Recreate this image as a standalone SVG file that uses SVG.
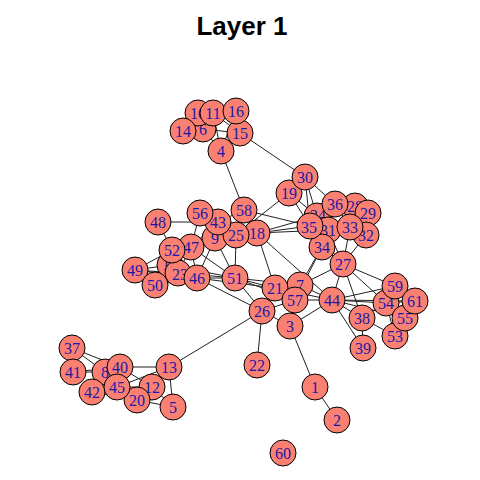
<svg xmlns="http://www.w3.org/2000/svg" width="480" height="480" viewBox="0 0 480 480">
<style>
.e line{stroke:#222;stroke-width:1}
.n circle{fill:#FA8072;stroke:#000;stroke-width:1}
.n text{font-family:"Liberation Serif",serif;font-size:16px;fill:#1a1aa8;text-anchor:middle;dominant-baseline:central}
.t{font-family:"Liberation Sans",Arial,sans-serif;font-size:26px;font-weight:bold;text-anchor:middle}
</style>
<rect width="480" height="480" fill="#fff"/>
<text class="t" x="242" y="35">Layer 1</text>
<g class="e" id="edges">
<line x1="198" y1="113" x2="203" y2="129"/><line x1="198" y1="113" x2="213" y2="113"/><line x1="198" y1="113" x2="183" y2="131"/>
<line x1="213" y1="113" x2="236" y2="111"/><line x1="213" y1="113" x2="203" y2="129"/><line x1="183" y1="131" x2="203" y2="129"/>
<line x1="203" y1="129" x2="240" y2="133"/><line x1="203" y1="129" x2="221" y2="151"/><line x1="213" y1="113" x2="221" y2="151"/>
<line x1="236" y1="111" x2="240" y2="133"/><line x1="236" y1="111" x2="221" y2="151"/><line x1="240" y1="133" x2="221" y2="151"/>
<line x1="213" y1="113" x2="240" y2="133"/><line x1="221" y1="151" x2="244" y2="210"/><line x1="240" y1="133" x2="305" y2="177"/>
<line x1="305" y1="177" x2="289" y2="193"/><line x1="305" y1="177" x2="335" y2="204"/><line x1="305" y1="177" x2="317" y2="216"/>
<line x1="305" y1="177" x2="310" y2="226"/><line x1="289" y1="193" x2="310" y2="226"/><line x1="289" y1="193" x2="317" y2="216"/>
<line x1="289" y1="193" x2="236" y2="235"/><line x1="244" y1="210" x2="257" y2="233"/><line x1="244" y1="210" x2="310" y2="226"/>
<line x1="244" y1="210" x2="218" y2="222"/><line x1="244" y1="210" x2="236" y2="235"/><line x1="257" y1="233" x2="310" y2="226"/>
<line x1="257" y1="233" x2="317" y2="216"/><line x1="257" y1="233" x2="328" y2="230"/><line x1="257" y1="233" x2="236" y2="235"/>
<line x1="257" y1="233" x2="275" y2="288"/><line x1="257" y1="233" x2="332" y2="300"/>
<line x1="335" y1="204" x2="317" y2="216"/><line x1="335" y1="204" x2="355" y2="206"/><line x1="335" y1="204" x2="328" y2="230"/>
<line x1="335" y1="204" x2="350" y2="227"/><line x1="355" y1="206" x2="368" y2="213"/><line x1="355" y1="206" x2="350" y2="227"/>
<line x1="368" y1="213" x2="366" y2="235"/><line x1="350" y1="227" x2="366" y2="235"/><line x1="317" y1="216" x2="310" y2="226"/>
<line x1="317" y1="216" x2="328" y2="230"/><line x1="310" y1="226" x2="328" y2="230"/><line x1="328" y1="230" x2="322" y2="247"/>
<line x1="350" y1="227" x2="328" y2="230"/><line x1="322" y1="247" x2="310" y2="226"/><line x1="350" y1="227" x2="343" y2="264"/>
<line x1="366" y1="235" x2="343" y2="264"/><line x1="328" y1="230" x2="343" y2="264"/><line x1="322" y1="247" x2="343" y2="264"/>
<line x1="310" y1="226" x2="343" y2="264"/><line x1="317" y1="216" x2="350" y2="227"/><line x1="335" y1="204" x2="368" y2="213"/>
<line x1="322" y1="247" x2="300" y2="285"/><line x1="322" y1="247" x2="295" y2="300"/>
<line x1="343" y1="264" x2="332" y2="300"/><line x1="343" y1="264" x2="395" y2="286"/><line x1="343" y1="264" x2="362" y2="318"/>
<line x1="343" y1="264" x2="386" y2="303"/><line x1="343" y1="264" x2="300" y2="285"/>
<line x1="332" y1="300" x2="395" y2="286"/><line x1="332" y1="300" x2="386" y2="303"/><line x1="332" y1="300" x2="415" y2="301"/>
<line x1="332" y1="300" x2="362" y2="318"/><line x1="332" y1="300" x2="363" y2="348"/><line x1="332" y1="300" x2="295" y2="300"/>
<line x1="332" y1="300" x2="300" y2="285"/><line x1="332" y1="300" x2="290" y2="326"/><line x1="332" y1="300" x2="275" y2="288"/>
<line x1="332" y1="300" x2="405" y2="318"/>
<line x1="362" y1="318" x2="395" y2="336"/><line x1="362" y1="318" x2="363" y2="348"/><line x1="362" y1="318" x2="386" y2="303"/>
<line x1="386" y1="303" x2="395" y2="286"/><line x1="386" y1="303" x2="415" y2="301"/><line x1="386" y1="303" x2="405" y2="318"/>
<line x1="395" y1="286" x2="415" y2="301"/><line x1="405" y1="318" x2="415" y2="301"/><line x1="395" y1="336" x2="405" y2="318"/>
<line x1="395" y1="336" x2="386" y2="303"/>
<line x1="275" y1="288" x2="300" y2="285"/><line x1="275" y1="288" x2="295" y2="300"/><line x1="275" y1="288" x2="262" y2="311"/>
<line x1="275" y1="288" x2="235" y2="278"/><line x1="275" y1="288" x2="197" y2="278"/><line x1="300" y1="285" x2="295" y2="300"/>
<line x1="300" y1="285" x2="290" y2="326"/><line x1="295" y1="300" x2="290" y2="326"/><line x1="295" y1="300" x2="262" y2="311"/>
<line x1="262" y1="311" x2="290" y2="326"/><line x1="262" y1="311" x2="169" y2="367"/><line x1="262" y1="311" x2="257" y2="365"/>
<line x1="262" y1="311" x2="235" y2="278"/><line x1="262" y1="311" x2="197" y2="278"/><line x1="290" y1="326" x2="315" y2="387"/>
<line x1="315" y1="387" x2="337" y2="420"/>
<line x1="235" y1="278" x2="197" y2="278"/><line x1="235" y1="278" x2="215" y2="238"/><line x1="235" y1="278" x2="236" y2="235"/>
<line x1="235" y1="278" x2="191" y2="247"/><line x1="235" y1="278" x2="170" y2="265"/><line x1="235" y1="278" x2="178" y2="273"/>
<line x1="235" y1="278" x2="300" y2="285"/><line x1="235" y1="278" x2="295" y2="300"/>
<line x1="191" y1="247" x2="172" y2="250"/><line x1="191" y1="247" x2="215" y2="238"/><line x1="191" y1="247" x2="218" y2="222"/>
<line x1="191" y1="247" x2="200" y2="213"/><line x1="191" y1="247" x2="197" y2="278"/><line x1="191" y1="247" x2="178" y2="273"/>
<line x1="191" y1="247" x2="170" y2="265"/>
<line x1="158" y1="222" x2="172" y2="250"/><line x1="158" y1="222" x2="218" y2="222"/>
<line x1="200" y1="213" x2="218" y2="222"/><line x1="218" y1="222" x2="215" y2="238"/><line x1="218" y1="222" x2="236" y2="235"/>
<line x1="215" y1="238" x2="236" y2="235"/><line x1="215" y1="238" x2="197" y2="278"/>
<line x1="135" y1="270" x2="170" y2="265"/><line x1="135" y1="270" x2="172" y2="250"/><line x1="135" y1="270" x2="155" y2="285"/>
<line x1="135" y1="270" x2="178" y2="273"/><line x1="135" y1="270" x2="197" y2="278"/>
<line x1="155" y1="285" x2="178" y2="273"/><line x1="155" y1="285" x2="170" y2="265"/><line x1="155" y1="285" x2="197" y2="278"/>
<line x1="178" y1="273" x2="197" y2="278"/><line x1="170" y1="265" x2="197" y2="278"/><line x1="170" y1="265" x2="172" y2="250"/>
<line x1="170" y1="265" x2="178" y2="273"/><line x1="172" y1="250" x2="178" y2="273"/>
<line x1="169" y1="367" x2="120" y2="367"/><line x1="169" y1="367" x2="152" y2="387"/><line x1="169" y1="367" x2="173" y2="407"/>
<line x1="169" y1="367" x2="117" y2="387"/><line x1="169" y1="367" x2="137" y2="400"/>
<line x1="152" y1="387" x2="173" y2="407"/><line x1="152" y1="387" x2="137" y2="400"/><line x1="152" y1="387" x2="117" y2="387"/>
<line x1="152" y1="387" x2="120" y2="367"/><line x1="137" y1="400" x2="117" y2="387"/><line x1="137" y1="400" x2="173" y2="407"/>
<line x1="72" y1="348" x2="73" y2="372"/><line x1="72" y1="348" x2="105" y2="372"/><line x1="72" y1="348" x2="120" y2="367"/>
<line x1="73" y1="372" x2="105" y2="372"/><line x1="73" y1="372" x2="120" y2="367"/><line x1="92" y1="392" x2="105" y2="372"/>
<line x1="92" y1="392" x2="117" y2="387"/><line x1="105" y1="372" x2="120" y2="367"/><line x1="105" y1="372" x2="117" y2="387"/>
<line x1="120" y1="367" x2="117" y2="387"/><line x1="92" y1="392" x2="137" y2="400"/>
</g>
<g class="n" id="n1"><circle cx="315" cy="387" r="13"/><text x="315" y="387">1</text></g>
<g class="n" id="n2"><circle cx="337" cy="420" r="13"/><text x="337" y="420">2</text></g>
<g class="n" id="n3"><circle cx="290" cy="326" r="13"/><text x="290" y="326">3</text></g>
<g class="n" id="n4"><circle cx="221" cy="151" r="13"/><text x="221" y="151">4</text></g>
<g class="n" id="n5"><circle cx="173" cy="407" r="13"/><text x="173" y="407">5</text></g>
<g class="n" id="n6"><circle cx="203" cy="129" r="13"/><text x="203" y="129">6</text></g>
<g class="n" id="n7"><circle cx="300" cy="285" r="13"/><text x="300" y="285">7</text></g>
<g class="n" id="n8"><circle cx="105" cy="372" r="13"/><text x="105" y="372">8</text></g>
<g class="n" id="n9"><circle cx="215" cy="238" r="13"/><text x="215" y="238">9</text></g>
<g class="n" id="n10"><circle cx="198" cy="113" r="13"/><text x="198" y="113">10</text></g>
<g class="n" id="n11"><circle cx="213" cy="113" r="13"/><text x="213" y="113">11</text></g>
<g class="n" id="n12"><circle cx="152" cy="387" r="13"/><text x="152" y="387">12</text></g>
<g class="n" id="n13"><circle cx="169" cy="367" r="13"/><text x="169" y="367">13</text></g>
<g class="n" id="n14"><circle cx="183" cy="131" r="13"/><text x="183" y="131">14</text></g>
<g class="n" id="n15"><circle cx="240" cy="133" r="13"/><text x="240" y="133">15</text></g>
<g class="n" id="n16"><circle cx="236" cy="111" r="13"/><text x="236" y="111">16</text></g>
<g class="n" id="n17"><circle cx="170" cy="265" r="13"/><text x="170" y="264">17</text></g>
<g class="n" id="n18"><circle cx="257" cy="233" r="13"/><text x="257" y="233">18</text></g>
<g class="n" id="n19"><circle cx="289" cy="193" r="13"/><text x="289" y="193">19</text></g>
<g class="n" id="n20"><circle cx="137" cy="400" r="13"/><text x="137" y="400">20</text></g>
<g class="n" id="n21"><circle cx="275" cy="288" r="13"/><text x="275" y="288">21</text></g>
<g class="n" id="n22"><circle cx="257" cy="365" r="13"/><text x="257" y="365">22</text></g>
<g class="n" id="n23"><circle cx="178" cy="273" r="13"/><text x="180" y="274">23</text></g>
<g class="n" id="n24"><circle cx="317" cy="216" r="13"/><text x="318" y="215">24</text></g>
<g class="n" id="n25"><circle cx="236" cy="235" r="13"/><text x="236" y="235">25</text></g>
<g class="n" id="n26"><circle cx="262" cy="311" r="13"/><text x="262" y="311">26</text></g>
<g class="n" id="n27"><circle cx="343" cy="264" r="13"/><text x="343" y="264">27</text></g>
<g class="n" id="n28"><circle cx="355" cy="206" r="13"/><text x="355" y="206">28</text></g>
<g class="n" id="n29"><circle cx="368" cy="213" r="13"/><text x="368" y="213">29</text></g>
<g class="n" id="n30"><circle cx="305" cy="177" r="13"/><text x="305" y="177">30</text></g>
<g class="n" id="n31"><circle cx="328" cy="230" r="13"/><text x="328" y="230">31</text></g>
<g class="n" id="n32"><circle cx="366" cy="235" r="13"/><text x="366" y="235">32</text></g>
<g class="n" id="n33"><circle cx="350" cy="227" r="13"/><text x="350" y="227">33</text></g>
<g class="n" id="n34"><circle cx="322" cy="247" r="13"/><text x="322" y="247">34</text></g>
<g class="n" id="n35"><circle cx="310" cy="226" r="13"/><text x="309" y="227">35</text></g>
<g class="n" id="n36"><circle cx="335" cy="204" r="13"/><text x="335" y="204">36</text></g>
<g class="n" id="n37"><circle cx="72" cy="348" r="13"/><text x="72" y="348">37</text></g>
<g class="n" id="n38"><circle cx="362" cy="318" r="13"/><text x="362" y="318">38</text></g>
<g class="n" id="n39"><circle cx="363" cy="348" r="13"/><text x="363" y="348">39</text></g>
<g class="n" id="n40"><circle cx="120" cy="367" r="13"/><text x="120" y="367">40</text></g>
<g class="n" id="n41"><circle cx="73" cy="372" r="13"/><text x="73" y="372">41</text></g>
<g class="n" id="n42"><circle cx="92" cy="392" r="13"/><text x="92" y="392">42</text></g>
<g class="n" id="n43"><circle cx="218" cy="222" r="13"/><text x="218" y="222">43</text></g>
<g class="n" id="n44"><circle cx="332" cy="300" r="13"/><text x="332" y="300">44</text></g>
<g class="n" id="n45"><circle cx="117" cy="387" r="13"/><text x="117" y="387">45</text></g>
<g class="n" id="n46"><circle cx="197" cy="278" r="13"/><text x="197" y="278">46</text></g>
<g class="n" id="n47"><circle cx="191" cy="247" r="13"/><text x="191" y="247">47</text></g>
<g class="n" id="n48"><circle cx="158" cy="222" r="13"/><text x="158" y="222">48</text></g>
<g class="n" id="n49"><circle cx="135" cy="270" r="13"/><text x="135" y="270">49</text></g>
<g class="n" id="n50"><circle cx="155" cy="285" r="13"/><text x="155" y="285">50</text></g>
<g class="n" id="n51"><circle cx="235" cy="278" r="13"/><text x="235" y="278">51</text></g>
<g class="n" id="n52"><circle cx="172" cy="250" r="13"/><text x="172" y="250">52</text></g>
<g class="n" id="n53"><circle cx="395" cy="336" r="13"/><text x="395" y="336">53</text></g>
<g class="n" id="n54"><circle cx="386" cy="303" r="13"/><text x="386" y="303">54</text></g>
<g class="n" id="n55"><circle cx="405" cy="318" r="13"/><text x="405" y="318">55</text></g>
<g class="n" id="n56"><circle cx="200" cy="213" r="13"/><text x="200" y="213">56</text></g>
<g class="n" id="n57"><circle cx="295" cy="300" r="13"/><text x="295" y="300">57</text></g>
<g class="n" id="n58"><circle cx="244" cy="210" r="13"/><text x="244" y="210">58</text></g>
<g class="n" id="n59"><circle cx="395" cy="286" r="13"/><text x="395" y="286">59</text></g>
<g class="n" id="n60"><circle cx="283" cy="453" r="13"/><text x="283" y="453">60</text></g>
<g class="n" id="n61"><circle cx="415" cy="301" r="13"/><text x="415" y="301">61</text></g>
</svg>
